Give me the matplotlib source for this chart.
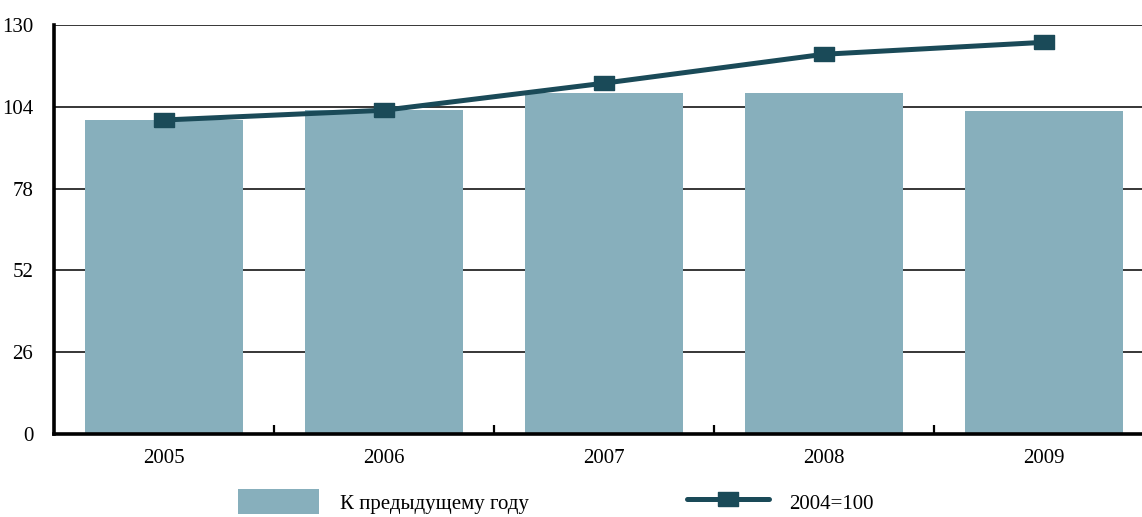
import matplotlib.pyplot as plt
import numpy as np

plt.rcParams['font.family'] = ['Liberation Serif', 'DejaVu Serif']

# данные
years = ['2005', '2006', '2007', '2008', '2009']
k_prev = [99.8, 103.0, 108.4, 108.4, 102.7]      # к предыдущему году
base_2004 = [99.8, 102.9, 111.5, 120.7, 124.5]   # 2004=100

bar_color = '#87afbc'
line_color = '#1a4a58'

fig = plt.figure(figsize=(11.42, 5.17), dpi=100)
ax = fig.add_axes([54 / 1142, 1 - 434 / 517, 1100 / 1142, 409 / 517])

x = np.arange(len(years))
bars = ax.bar(x, k_prev, width=0.72, color=bar_color, zorder=2, label='К предыдущему году')

# прямоугольный маркер
box = [(-1, -0.72), (1, -0.72), (1, 0.72), (-1, 0.72), (-1, -0.72)]
line, = ax.plot(x, base_2004, color=line_color, lw=3.6, marker=box, markersize=14.5,
                solid_capstyle='round', zorder=3, label='2004=100')

ax.set_xlim(-0.5, 4.5)
ax.set_ylim(0, 130)
ax.set_yticks([0, 26, 52, 78, 104, 130])
ax.tick_params(axis='y', length=0, pad=15, labelsize=15)
ax.yaxis.grid(True, color='black', lw=1.1, zorder=1)
ax.set_axisbelow(True)

# деления между годами, подписи по центру
ax.set_xticks([0.5, 1.5, 2.5, 3.5])
ax.set_xticklabels([])
ax.tick_params(axis='x', which='major', direction='in', length=6.5, width=1.6, color='black')
ax.set_xticks(x, minor=True)
ax.set_xticklabels(years, minor=True)
ax.tick_params(axis='x', which='minor', length=0, pad=11, labelsize=15)

for s in ['top', 'right']:
    ax.spines[s].set_visible(False)
ax.spines['left'].set_linewidth(2.6)
ax.spines['bottom'].set_linewidth(2.6)

fig.legend([bars, line], ['К предыдущему году', '2004=100'],
           loc='upper left', bbox_to_anchor=(238 / 1142, 1 - 489 / 517), ncol=2,
           frameon=False, fontsize=15, borderpad=0, borderaxespad=0,
           handlelength=3.9, handleheight=1.5, handletextpad=1.0, columnspacing=7.6)

fig.savefig('out.png', dpi=100)
